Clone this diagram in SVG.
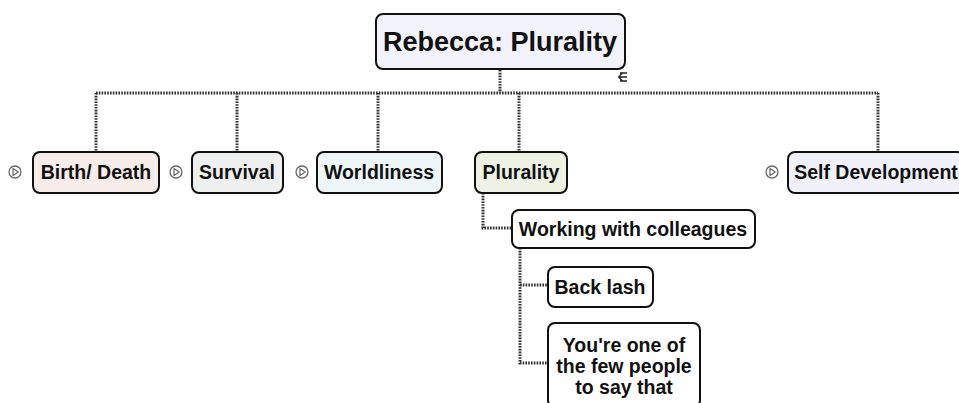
<svg xmlns="http://www.w3.org/2000/svg" width="959" height="403" viewBox="0 0 959 403">
  <style>
    .box { stroke: #111; stroke-width: 2; }
    .lbl { font-family: "Liberation Sans", Arial, sans-serif; font-weight: bold; font-size: 19.5px; fill: #111; text-anchor: middle; }
    .root { font-size: 27px; }
    .link { fill: none; stroke: #333; stroke-width: 3; stroke-dasharray: 1.6 1.2; }
  </style>
  <defs>
    <g id="expand">
      <circle cx="0" cy="0" r="6" fill="none" stroke="#666" stroke-width="1.3"/>
      <path d="M-2,-3.5 L3.2,0 L-2,3.5 Z" fill="none" stroke="#666" stroke-width="1.2" stroke-linejoin="round"/>
    </g>
  </defs>
  <rect width="959" height="403" fill="#fff"/>

  <!-- connectors -->
  <g id="connectors">
    <path class="link" d="M500,70 V93"/>
    <path class="link" d="M96,93 H878"/>
    <path class="link" d="M96,93 V152"/>
    <path class="link" d="M237,93 V152"/>
    <path class="link" d="M378,93 V152"/>
    <path class="link" d="M519,93 V152"/>
    <path class="link" d="M878,93 V152"/>
    <path class="link" d="M483,193 V228 H512"/>
    <path class="link" d="M520,248 V363 H548"/>
    <path class="link" d="M520,285 H548"/>
    <!-- collapse marker -->
    <path d="M627,73 H620 M627,77 H618 M627,81 H620 M623,73 Q616,77 623,81" fill="none" stroke="#222" stroke-width="1.4"/>
  </g>

  <g id="node-root">
    <rect class="box" x="376" y="14" width="249" height="55" rx="7" fill="#f2f2fb"/>
    <text class="lbl root" x="500" y="51">Rebecca: Plurality</text>
  </g>

  <g id="node-birth-death">
    <use href="#expand" x="15" y="172"/>
    <rect class="box" x="33" y="152" width="126" height="41" rx="7" fill="#f6ecea"/>
    <text class="lbl" x="96" y="179">Birth/ Death</text>
  </g>

  <g id="node-survival">
    <use href="#expand" x="176" y="172"/>
    <rect class="box" x="192" y="152" width="91" height="41" rx="7" fill="#eef0ef"/>
    <text class="lbl" x="237" y="179">Survival</text>
  </g>

  <g id="node-worldliness">
    <use href="#expand" x="302" y="172"/>
    <rect class="box" x="317" y="152" width="125" height="41" rx="7" fill="#eef5f6"/>
    <text class="lbl" x="379" y="179">Worldliness</text>
  </g>

  <g id="node-plurality">
    <rect class="box" x="475" y="152" width="92" height="41" rx="7" fill="#eef2e4"/>
    <text class="lbl" x="521" y="179">Plurality</text>
  </g>

  <g id="node-self-development">
    <use href="#expand" x="772" y="172"/>
    <rect class="box" x="788" y="152" width="176" height="41" rx="7" fill="#f0f0f8"/>
    <text class="lbl" x="876" y="179">Self Development</text>
  </g>

  <g id="node-working">
    <rect class="box" x="512" y="210" width="243" height="38" rx="7" fill="#fff"/>
    <text class="lbl" x="633" y="236">Working with colleagues</text>
  </g>

  <g id="node-back-lash">
    <rect class="box" x="548" y="267" width="105" height="40" rx="7" fill="#fff"/>
    <text class="lbl" x="600" y="294">Back lash</text>
  </g>

  <g id="node-few-people">
    <rect class="box" x="548" y="323" width="152" height="84" rx="7" fill="#fff"/>
    <text class="lbl" x="624" y="352">You're one of</text>
    <text class="lbl" x="624" y="373">the few people</text>
    <text class="lbl" x="624" y="394">to say that</text>
  </g>
</svg>
